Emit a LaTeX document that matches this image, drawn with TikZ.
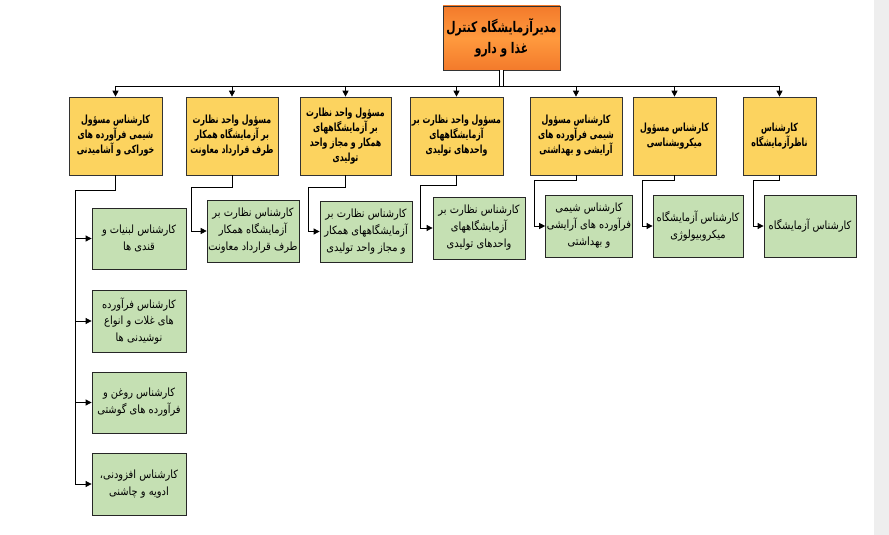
\documentclass[tikz,border=0pt]{standalone}
\usepackage{fontspec}
\usetikzlibrary{arrows.meta,calc}
\TeXXeTstate=1
\newfontfamily\fa[Script=Arabic,FakeStretch=0.87]{DejaVu Sans}
\newfontfamily\fab[Script=Arabic,FakeStretch=0.7]{DejaVu Sans Bold}
\newfontfamily\fat[Script=Arabic,FakeStretch=0.73]{DejaVu Sans Bold}
\newcommand\RL[1]{\beginR #1\endR}
\definecolor{ybox}{HTML}{FCD35F}
\definecolor{gbox}{HTML}{C5E0B3}
\definecolor{obox}{HTML}{F37A2B}
\definecolor{oboxl}{HTML}{FF9A3E}
\definecolor{band}{HTML}{EEEEEE}
\tikzset{
  yellowbox/.style={draw=black!80, line width=0.5pt, fill=ybox, align=center, inner sep=1pt,
    font=\fab\fontsize{8.4}{11.3}\selectfont, minimum height=58.5pt},
  greenbox/.style={draw=black!85, line width=0.6pt, fill=gbox, align=center, inner sep=1pt,
    font=\fa\fontsize{8.5}{12.7}\selectfont},
  topbox/.style={draw=black!80, line width=0.5pt, top color=obox, bottom color=obox, middle color=oboxl,
    align=center, inner sep=1pt, font=\fat\fontsize{11}{16}\selectfont,
    minimum width=87.75pt, minimum height=48pt},
  conn/.style={draw=black, line width=0.6pt},
  arr/.style={conn, -{Triangle[length=4.5pt,width=4.5pt]}},
  dbl/.style={draw=black, double=white, double distance=2.2pt, line width=0.5pt}
}
\begin{document}
\begin{tikzpicture}[x=0.75pt,y=-0.75pt]
\useasboundingbox (0,0) rectangle (889,535);
\fill[white] (0,0) rectangle (889,535);
\fill[band] (874,0) rectangle (889,535);

% top
\node[topbox] (top) at (501.5,38) {\RL{مدیرآزمایشگاه کنترل}\\\RL{غذا و دارو}};

% yellow row
\node[yellowbox, minimum width=69.75pt] (y1) at (115.5,136) {\RL{کارشناس مسؤول}\\\RL{شیمی فرآورده های}\\\RL{خوراکی و آشامیدنی}};
\node[yellowbox, minimum width=69pt] (y2) at (232,136) {\RL{مسؤول واحد نظارت}\\\RL{بر آزمایشگاه همکار}\\\RL{طرف قرارداد معاونت}};
\node[yellowbox, minimum width=68.25pt] (y3) at (345.5,136) {\RL{مسؤول واحد نظارت}\\\RL{بر آزمایشگاههای}\\\RL{همکار و مجاز واحد}\\\RL{تولیدی}};
\node[yellowbox, minimum width=69.75pt] (y4) at (456.5,136) {\RL{مسؤول واحد نظارت بر}\\\RL{آزمایشگاههای}\\\RL{واحدهای تولیدی}};
\node[yellowbox, minimum width=69pt] (y5) at (576,136) {\RL{کارشناس مسؤول}\\\RL{شیمی فرآورده های}\\\RL{آرایشی و بهداشتی}};
\node[yellowbox, minimum width=62.25pt] (y6) at (674.5,136) {\RL{کارشناس مسؤول}\\\RL{میکروبشناسی}};
\node[yellowbox, minimum width=54.75pt] (y7) at (779.5,136) {\RL{کارشناس}\\\RL{ناظرآزمایشگاه}};

% green row
\node[greenbox, minimum width=67.5pt, minimum height=46.5pt] (gA) at (253,231) {\RL{کارشناس نظارت بر}\\\RL{آزمایشگاه همکار}\\\RL{طرف قرارداد معاونت}};
\node[greenbox, minimum width=69pt, minimum height=45.75pt] (gB) at (366,231.5) {\RL{کارشناس نظارت بر}\\\RL{آزمایشگاههای همکار}\\\RL{و مجاز  واحد تولیدی}};
\node[greenbox, minimum width=69pt, minimum height=46.5pt] (gC) at (479,228) {\RL{کارشناس نظارت بر}\\\RL{آزمایشگاههای}\\\RL{واحدهای تولیدی}};
\node[greenbox, minimum width=64.5pt, minimum height=46.5pt] (gD) at (589,226) {\RL{کارشناس شیمی}\\\RL{فرآورده های آرایشی}\\\RL{و بهداشتی}};
\node[greenbox, minimum width=67.5pt, minimum height=46.5pt] (gE) at (698,226) {\RL{کارشناس آزمایشگاه}\\\RL{میکروبیولوژی}};
\node[greenbox, minimum width=69pt, minimum height=46.5pt] (gF) at (810,226) {\RL{کارشناس آزمایشگاه}};

% left column
\node[greenbox, minimum width=70.5pt, minimum height=45.75pt] (g1) at (139,238.5) {\RL{کارشناس لبنیات و}\\\RL{قندی ها}};
\node[greenbox, minimum width=70.5pt, minimum height=46.5pt] (g2) at (139,321) {\RL{کارشناس  فرآورده}\\\RL{های غلات و انواع}\\\RL{نوشیدنی ها}};
\node[greenbox, minimum width=70.5pt, minimum height=45.75pt] (g3) at (139,402.5) {\RL{کارشناس روغن و}\\\RL{فرآورده های گوشتی}};
\node[greenbox, minimum width=70.5pt, minimum height=46.5pt] (g4) at (139,484) {\RL{کارشناس افزودنی،}\\\RL{ادویه و چاشنی}};

% bus
\coordinate (bus) at (500,86);
\draw[dbl] (top.south) -- (top.south |- bus);
\draw[conn] (y1.north |- bus) -- (y7.north |- bus);
\foreach \n in {y1,y2,y3,y4,y5,y6,y7}{
  \draw[arr] (\n.north |- bus) -- (\n.north);
}

% connectors to green boxes
\coordinate (c1) at (75,190);
\coordinate (c2) at (191,187);
\coordinate (c3) at (308,187);
\coordinate (c4) at (420,185);
\coordinate (c5) at (534,180);
\coordinate (c6) at (642,180);
\coordinate (c7) at (753,180);
\draw[arr] (y2.south) |- (c2) |- (gA.west);
\draw[arr] (y3.south) |- (c3) |- (gB.west);
\draw[arr] (y4.south) |- (c4) |- (gC.west);
\draw[arr] (y5.south) |- (c5) |- (gD.west);
\draw[arr] (y6.south) |- (c6) |- (gE.west);
\draw[arr] (y7.south) |- (c7) |- (gF.west);

% left column connectors
\draw[conn] (y1.south) |- (c1) -- (c1 |- g4.west);
\foreach \n in {g1,g2,g3,g4}{
  \draw[arr] (c1 |- \n.west) -- (\n.west);
}
\end{tikzpicture}
\end{document}
